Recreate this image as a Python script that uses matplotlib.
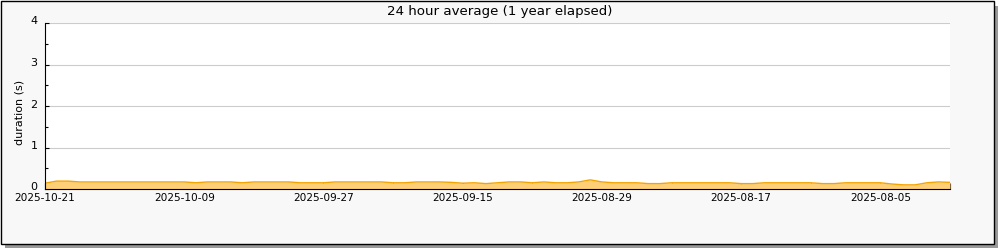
import numpy as np
import matplotlib.pyplot as plt
import matplotlib.transforms as mtransforms
from matplotlib.patches import Rectangle

# daily 24h average durations (s), newest first
durations = [
    0.14, 0.19, 0.19, 0.17, 0.17, 0.17, 0.17, 0.17, 0.17, 0.17,
    0.17, 0.17, 0.17, 0.15, 0.17, 0.17, 0.17, 0.15, 0.17, 0.17,
    0.17, 0.17, 0.15, 0.15, 0.15, 0.17, 0.17, 0.17, 0.17, 0.17,
    0.15, 0.15, 0.17, 0.17, 0.17, 0.16, 0.14, 0.15, 0.13, 0.15,
    0.17, 0.17, 0.15, 0.17, 0.15, 0.15, 0.17, 0.22, 0.17, 0.15,
    0.15, 0.15, 0.13, 0.13, 0.15, 0.15, 0.15, 0.15, 0.15, 0.15,
    0.13, 0.13, 0.15, 0.15, 0.15, 0.15, 0.15, 0.13, 0.13, 0.15,
    0.15, 0.15, 0.15, 0.12, 0.10, 0.10, 0.15, 0.17, 0.16,
]
date_labels = ['2025-10-21', '2025-10-09', '2025-09-27', '2025-09-15',
               '2025-08-29', '2025-08-17', '2025-08-05']
label_step = 12
title = '24 hour average (1 year elapsed)'

W, H = 1000, 250
fig = plt.figure(figsize=(W / 100, H / 100), dpi=100)
fig.patch.set_facecolor('white')

# frame with drop shadow
fig.add_artist(Rectangle((5 / W, 2 / H), 993 / W, 242 / H, transform=fig.transFigure,
                         facecolor='#999999', edgecolor='none', zorder=-3))
fig.add_artist(Rectangle((1 / W, 6 / H), 993 / W, 243 / H, transform=fig.transFigure,
                         facecolor='#f8f8f8', edgecolor='black', lw=1, zorder=-2))

ax = fig.add_axes([45 / W, 1 - 189 / H, 905 / W, 166 / H])
ax.set_facecolor('white')

x = np.arange(len(durations))
ax.fill_between(x, durations, 0, color='#ffcf78', lw=0, zorder=2)
ax.plot(x, durations, color='#f5a300', lw=1, zorder=3)

ax.set_xlim(0, len(durations) - 1)
ax.set_ylim(0, 4)

ax.set_xticks(np.arange(len(date_labels)) * label_step)
ax.set_xticklabels(date_labels)
ax.set_xticks(np.arange(len(date_labels)) * label_step + label_step // 2, minor=True)
ax.set_yticks(range(5))
ax.set_yticks(np.arange(0.5, 4, 1), minor=True)

ax.tick_params(axis='x', which='both', direction='in', length=4.3, width=0.8,
               labelsize=7.6, pad=3.2)
ax.tick_params(axis='y', which='major', direction='in', length=3.2, width=0.8,
               labelsize=8, pad=5.5)
ax.tick_params(axis='y', which='minor', direction='in', length=2.4, width=0.8)
# nudge the y labels up a little, as in the original
shift = mtransforms.ScaledTranslation(0, 2.5 / 100, fig.dpi_scale_trans)
for lbl in ax.get_yticklabels():
    lbl.set_transform(lbl.get_transform() + shift)

ax.grid(axis='y', which='major', color='#cccccc', lw=0.8, zorder=1)
ax.set_axisbelow(True)
for side in ['top', 'right']:
    ax.spines[side].set_visible(False)
for side in ['left', 'bottom']:
    ax.spines[side].set_linewidth(0.8)
    ax.spines[side].set_zorder(4)

fig.text(0.5, 1 - 11 / H, title, ha='center', va='center', fontsize=9.6)
fig.text(20 / W, 1 - 112 / H, 'duration (s)', rotation=90, ha='center', va='center',
         fontsize=8)

fig.savefig('out.png', dpi=100, facecolor=fig.get_facecolor())
